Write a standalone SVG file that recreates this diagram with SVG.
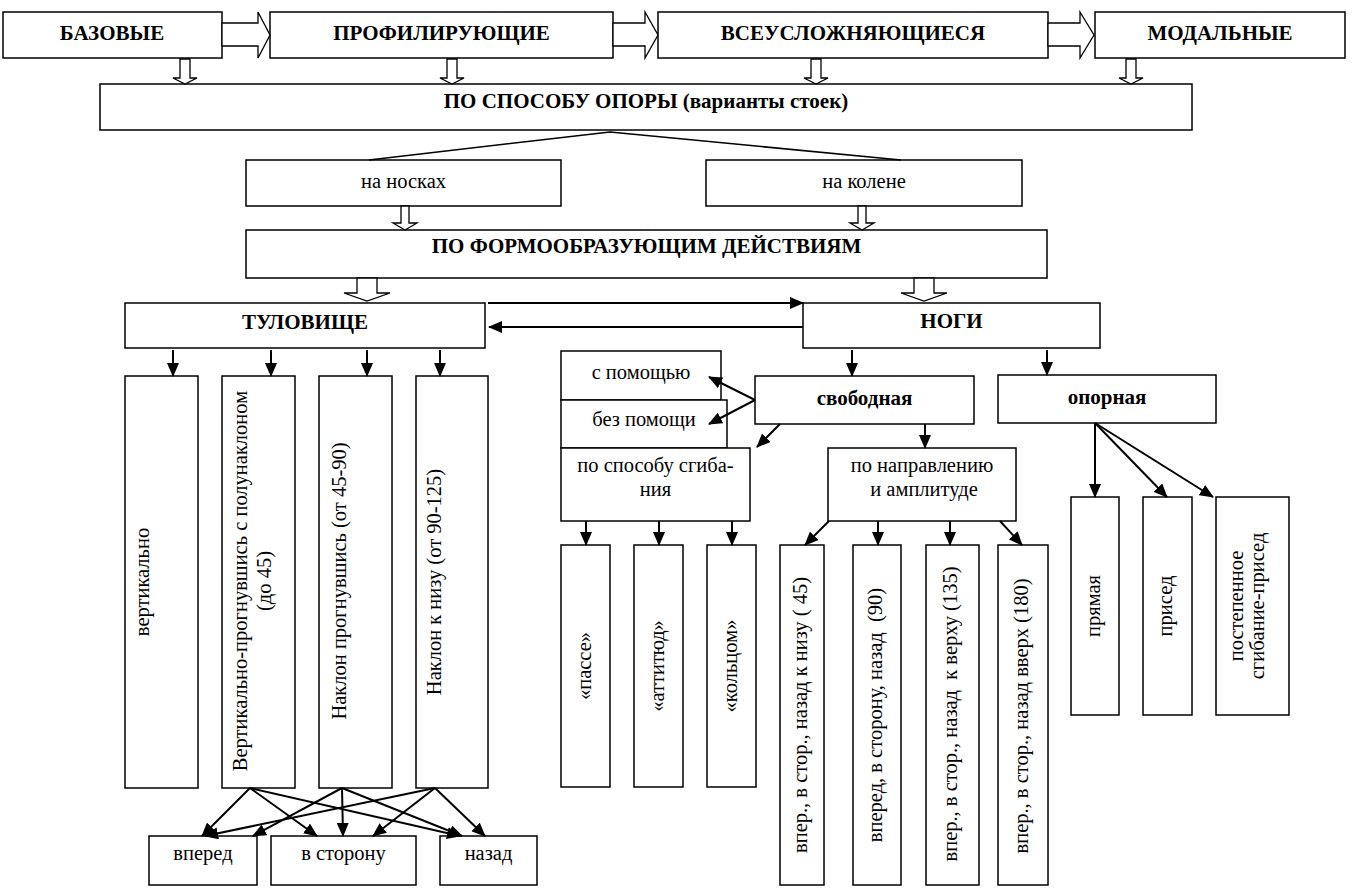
<svg xmlns="http://www.w3.org/2000/svg" width="1353" height="896" viewBox="0 0 1353 896">
<defs>
<style>
rect{fill:#fff;stroke:#000;stroke-width:1.5}
.blk{fill:#fff;stroke:#000;stroke-width:1.3}
.ln{stroke:#000;stroke-width:2;fill:none}
.ar{stroke:#000;stroke-width:2;fill:none;marker-end:url(#ah)}
text{font-family:"Liberation Serif","Times New Roman",serif;font-size:20.5px;fill:#000;text-anchor:middle}
.b{font-weight:bold;font-size:21px}
</style>
<marker id="ah" viewBox="0 0 14 12" refX="13" refY="6" markerWidth="14" markerHeight="12" markerUnits="userSpaceOnUse" orient="auto"><path d="M0,0 L14,6 L0,12 z" fill="#000"/></marker>
</defs>
<rect x="0" y="0" width="1353" height="896" style="fill:#fff;stroke:none"/>

<g id="n-bazovye"><rect x="3" y="12" width="219" height="46"/><text class="b" x="112" y="40">БАЗОВЫЕ</text></g>
<g id="n-profil"><rect x="270" y="12" width="343" height="46"/><text class="b" x="441.5" y="40">ПРОФИЛИРУЮЩИЕ</text></g>
<g id="n-vseusl"><rect x="658" y="12" width="390" height="46"/><text class="b" x="853" y="40">ВСЕУСЛОЖНЯЮЩИЕСЯ</text></g>
<g id="n-modal"><rect x="1095" y="12" width="250" height="46"/><text class="b" x="1220" y="40">МОДАЛЬНЫЕ</text></g>

<g id="n-opora"><rect x="100" y="84" width="1092" height="46"/><text class="b" x="646" y="108">ПО СПОСОБУ ОПОРЫ (варианты стоек)</text></g>
<g id="n-noski"><rect x="246" y="160" width="315" height="46"/><text x="403.5" y="188">на носках</text></g>
<g id="n-kolene"><rect x="706" y="160" width="316" height="46"/><text x="864" y="188">на колене</text></g>
<g id="n-form"><rect x="246" y="230" width="801" height="48"/><text class="b" x="646.5" y="253">ПО ФОРМООБРАЗУЮЩИМ ДЕЙСТВИЯМ</text></g>

<g id="n-tulov"><rect x="125" y="303" width="360" height="45"/><text class="b" x="305" y="329">ТУЛОВИЩЕ</text></g>
<g id="n-nogi"><rect x="803" y="303" width="297" height="45"/><text class="b" x="951.5" y="328">НОГИ</text></g>

<g id="n-vert"><rect x="125" y="376" width="73" height="412"/><text transform="translate(149,582) rotate(-90)">вертикально</text></g>
<g id="n-vert2"><rect x="222" y="376" width="73" height="412"/><text transform="translate(247,581) rotate(-90)"><tspan x="0" y="0">Вертикально-прогнувшись с полунаклоном</tspan><tspan x="0" y="24">(до 45)</tspan></text></g>
<g id="n-nakl1"><rect x="319" y="376" width="73" height="412"/><text transform="translate(346,581) rotate(-90)">Наклон прогнувшись (от 45-90)</text></g>
<g id="n-nakl2"><rect x="416" y="376" width="72" height="412"/><text transform="translate(441,582) rotate(-90)">Наклон к низу (от 90-125)</text></g>

<g id="n-vpered"><rect x="149" y="836" width="108" height="49"/><text x="203" y="860">вперед</text></g>
<g id="n-vstor"><rect x="271" y="836" width="145" height="49"/><text x="343.5" y="860">в сторону</text></g>
<g id="n-nazad"><rect x="440" y="836" width="97" height="49"/><text x="488.5" y="860">назад</text></g>

<g id="n-spomo"><rect x="561" y="351" width="160" height="49"/><text x="641" y="379">с помощью</text></g>
<g id="n-bezpomo"><rect x="561" y="400" width="166" height="48"/><text x="644" y="426">без помощи</text></g>
<g id="n-sgib"><rect x="561" y="448" width="189" height="73"/><text x="655.5" y="472">по способу сгиба-</text><text x="655.5" y="496">ния</text></g>
<g id="n-svob"><rect x="755" y="376" width="219" height="48"/><text class="b" x="864.5" y="405">свободная</text></g>
<g id="n-oporn"><rect x="998" y="375" width="218" height="48"/><text class="b" x="1107" y="404">опорная</text></g>
<g id="n-napr"><rect x="828" y="448" width="188" height="73"/><text x="922" y="472">по направлению</text><text x="924" y="496">и амплитуде</text></g>

<g id="n-passe"><rect x="561" y="545" width="49" height="242"/><text transform="translate(591,666) rotate(-90)">«пассе»</text></g>
<g id="n-attit"><rect x="634" y="545" width="49" height="242"/><text transform="translate(664,666) rotate(-90)">«аттитюд»</text></g>
<g id="n-kolc"><rect x="707" y="545" width="49" height="242"/><text transform="translate(737,666) rotate(-90)">«кольцом»</text></g>

<g id="n-a45"><rect x="780" y="545" width="44" height="340"/><text transform="translate(807,715) rotate(-90)">впер., в стор., назад к низу ( 45)</text></g>
<g id="n-a90"><rect x="853" y="545" width="48" height="340"/><text transform="translate(882,715) rotate(-90)" xml:space="preserve">вперед, в сторону, назад  (90)</text></g>
<g id="n-a135"><rect x="926" y="545" width="53" height="340"/><text transform="translate(957,714) rotate(-90)" xml:space="preserve">впер., в стор., назад  к верху (135)</text></g>
<g id="n-a180"><rect x="998" y="545" width="50" height="340"/><text transform="translate(1028,716) rotate(-90)">впер., в стор., назад вверх (180)</text></g>

<g id="n-pryam"><rect x="1071" y="497" width="48" height="218"/><text transform="translate(1100,606) rotate(-90)">прямая</text></g>
<g id="n-pris"><rect x="1143" y="497" width="49" height="218"/><text transform="translate(1172,606) rotate(-90)">присед</text></g>
<g id="n-postep"><rect x="1216" y="497" width="73" height="218"/><text transform="translate(1243,606) rotate(-90)"><tspan x="0" y="0">постепенное</tspan><tspan x="0" y="21">сгибание-присед</tspan></text></g>

<g id="connectors">
<polygon class="blk" points="222,23 258,23 258,12 270,35 258,58 258,46 222,46"/>
<polygon class="blk" points="613,23 645,23 645,12 658,35 645,58 645,46 613,46"/>
<polygon class="blk" points="1048,23 1080,23 1080,12 1094,35 1080,58 1080,46 1048,46"/>
<polygon class="blk" points="180,59 190,59 190,78 197,78 185,84 173,78 180,78"/>
<polygon class="blk" points="447,59 457,59 457,78 464,78 452,84 440,78 447,78"/>
<polygon class="blk" points="811,59 821,59 821,78 828,78 816,84 804,78 811,78"/>
<polygon class="blk" points="1126,59 1136,59 1136,78 1143,78 1131,84 1119,78 1126,78"/>
<polyline class="ln" style="stroke-width:1.5" points="369,160 610,132 901,160"/>
<polygon class="blk" points="401,206 409,206 409,223 417,223 405,230 393,223 401,223"/>
<polygon class="blk" points="858,206 866,206 866,223 874,223 862,230 850,223 858,223"/>
<polygon class="blk" points="357,278 377,278 377,293 390,293 367,301 344,293 357,293"/>
<polygon class="blk" points="914,278 934,278 934,293 947,293 924,301 901,293 914,293"/>
<line class="ar" x1="488" y1="303" x2="803" y2="303"/>
<line class="ar" x1="803" y1="327" x2="489" y2="327"/>
<line class="ar" x1="173" y1="350" x2="173" y2="376"/>
<line class="ar" x1="271" y1="350" x2="271" y2="376"/>
<line class="ar" x1="367" y1="350" x2="367" y2="376"/>
<line class="ar" x1="440" y1="350" x2="440" y2="376"/>
<line class="ar" x1="852" y1="350" x2="852" y2="376"/>
<line class="ar" x1="1047" y1="350" x2="1047" y2="375"/>
<line class="ar" x1="755" y1="400" x2="709" y2="377"/>
<line class="ar" x1="755" y1="400" x2="709" y2="424"/>
<line class="ar" x1="780" y1="424" x2="757" y2="447"/>
<line class="ar" x1="925" y1="424" x2="925" y2="448"/>
<line class="ar" x1="586" y1="521" x2="586" y2="545"/>
<line class="ar" x1="659" y1="521" x2="659" y2="545"/>
<line class="ar" x1="732" y1="521" x2="732" y2="545"/>
<line class="ar" x1="829" y1="521" x2="805" y2="545"/>
<line class="ar" x1="878" y1="521" x2="878" y2="545"/>
<line class="ar" x1="950" y1="521" x2="950" y2="545"/>
<line class="ar" x1="1000" y1="521" x2="1022" y2="545"/>
<line class="ar" x1="1095" y1="423" x2="1095" y2="497"/>
<line class="ar" x1="1095" y1="423" x2="1167" y2="497"/>
<line class="ar" x1="1095" y1="423" x2="1213" y2="497"/>
<line class="ar" x1="250" y1="788" x2="202" y2="836"/>
<line class="ar" x1="250" y1="788" x2="317" y2="836"/>
<line class="ar" x1="250" y1="788" x2="460" y2="836"/>
<line class="ar" x1="342" y1="788" x2="253" y2="836"/>
<line class="ar" x1="342" y1="788" x2="343" y2="836"/>
<line class="ar" x1="342" y1="788" x2="462" y2="836"/>
<line class="ar" x1="435" y1="788" x2="205" y2="836"/>
<line class="ar" x1="435" y1="788" x2="373" y2="836"/>
<line class="ar" x1="435" y1="788" x2="485" y2="836"/>
</g>
</svg>
